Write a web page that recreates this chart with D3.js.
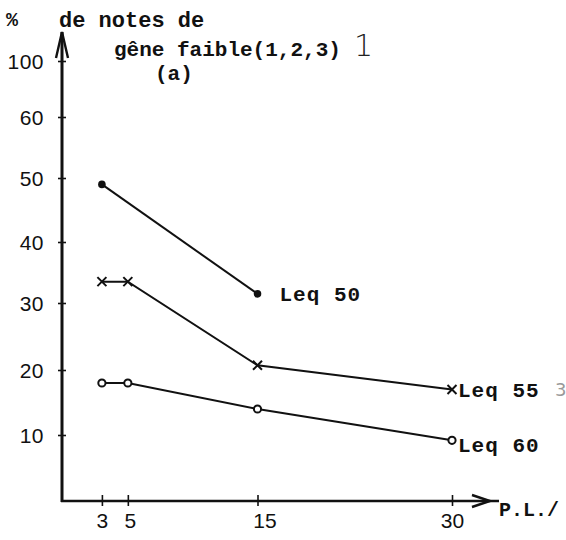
<!DOCTYPE html>
<html>
<head>
<meta charset="utf-8">
<script src="https://cdn.jsdelivr.net/npm/d3@7/dist/d3.min.js"></script>
<style>
  html, body { margin: 0; padding: 0; background: #fff; }
  svg { display: block; }
  .mono { font-family: "Liberation Mono", "DejaVu Sans Mono", monospace; fill: #111; }
  .num { font-family: "Liberation Sans", Arial, sans-serif; fill: #111; }
</style>
</head>
<body>
<svg id="chart" width="566" height="540"></svg>
<script>
// ---- data ----
const xTicks = [3, 5, 15, 30];
const yTicks = [10, 20, 30, 40, 50, 60, 100];
const yScaleSteps = [0, 10, 20, 30, 40, 50, 60, 100];

const leq50X = [3, 15];
const leq50Y = [49, 31.5];
const leq55X = [3, 5, 15, 30];
const leq55Y = [33.5, 33.5, 20.7, 17];
const leq60X = [3, 5, 15, 30];
const leq60Y = [18, 18, 14, 9.2];

const seriesNames = ["Leq 50", "Leq 55", "Leq 60"];
const titleLines = ["de notes de", "gêne faible(1,2,3)", "(a)"];
const xAxisLabel = "P.L./";

// ---- layout ----
const svg = d3.select("#chart");
const x0 = 62, y0 = 501;
const x = d3.scaleLinear().domain([0, 30]).range([63, 452]);
const y = d3.scaleLinear().domain(yScaleSteps)
  .range([501, 435, 370, 303, 242, 178, 117, 61]);

const ink = "#111";

// y axis
const yAxis = d3.axisLeft(y).tickValues(yTicks).tickSize(10).tickFormat(d3.format("d"));
const gy = svg.append("g").attr("transform", `translate(${x0},0)`).call(yAxis);
gy.select(".domain").remove();
gy.selectAll(".tick line").attr("x1", -4).attr("x2", 4).attr("stroke", ink).attr("stroke-width", 1.6);
gy.selectAll(".tick text")
  .attr("x", -18).attr("dy", "0.36em")
  .style("font-size", "21px").style("font-family", "Liberation Sans, Arial, sans-serif")
  .style("letter-spacing", "0.5px")
  .attr("fill", ink);
svg.append("line").attr("x1", x0).attr("x2", x0).attr("y1", y0 + 1).attr("y2", 32)
  .attr("stroke", ink).attr("stroke-width", 3);
svg.append("path").attr("d", `M${x0 - 6},58 L${x0},32 L${x0 + 6},58`)
  .attr("fill", "none").attr("stroke", ink).attr("stroke-width", 2.4);

// x axis
const xAxis = d3.axisBottom(x).tickValues(xTicks).tickSize(10).tickFormat(d3.format("d"));
const gx = svg.append("g").attr("transform", `translate(0,${y0})`).call(xAxis);
gx.select(".domain").remove();
gx.selectAll(".tick line").attr("y1", -6).attr("y2", 5).attr("stroke", ink).attr("stroke-width", 1.6);
gx.selectAll(".tick text")
  .attr("y", 27).attr("dy", 0)
  .style("font-size", "21px").style("font-family", "Liberation Sans, Arial, sans-serif")
  .attr("fill", ink);
gx.selectAll(".tick").filter(d => d === 5).select("text").attr("dx", 2);
gx.selectAll(".tick").filter(d => d === 15).select("text").attr("dx", 7);
svg.append("line").attr("x1", x0 - 1).attr("x2", 499).attr("y1", y0).attr("y2", y0)
  .attr("stroke", ink).attr("stroke-width", 2.6);
svg.append("path").attr("d", `M472,${y0 - 6} L490,${y0} L472,${y0 + 6}`)
  .attr("fill", "none").attr("stroke", ink).attr("stroke-width", 2.4);
svg.append("text").attr("class", "mono").attr("x", 499).attr("y", 516)
  .style("font-size", "20px").style("font-weight", "bold").text(xAxisLabel);

// titles
svg.append("text").attr("class", "mono").attr("x", 6).attr("y", 26)
  .style("font-size", "20px").style("font-weight", "bold").text("%");
svg.append("text").attr("class", "mono").attr("x", 59).attr("y", 27)
  .style("font-size", "22px").style("font-weight", "bold").text(titleLines[0]);
svg.append("text").attr("class", "mono").attr("x", 114).attr("y", 56)
  .style("font-size", "21px").style("font-weight", "bold").text(titleLines[1]);
svg.append("text").attr("class", "mono").attr("x", 155).attr("y", 80)
  .style("font-size", "21px").style("font-weight", "bold").text(titleLines[2]);
svg.append("text").attr("x", 354).attr("y", 56)
  .style("font-family", "DejaVu Sans, sans-serif").style("font-size", "30px").style("font-weight", "200")
  .attr("fill", "#222").text("1");

// series
const line = d3.line().x(d => x(d[0])).y(d => y(d[1]));
const pts50 = d3.zip(leq50X, leq50Y);
const pts55 = d3.zip(leq55X, leq55Y);
const pts60 = d3.zip(leq60X, leq60Y);

[pts50, pts55, pts60].forEach(p => {
  svg.append("path").datum(p).attr("d", line)
    .attr("fill", "none").attr("stroke", ink).attr("stroke-width", 2);
});

// markers: Leq 50 filled dots
svg.selectAll(".m50").data(pts50).join("circle")
  .attr("cx", d => x(d[0])).attr("cy", d => y(d[1])).attr("r", 3.8).attr("fill", ink);
// Leq 55 crosses
svg.selectAll(".m55").data(pts55).join("path")
  .attr("d", d => {
    const cx = x(d[0]), cy = y(d[1]), s = 4.5;
    return `M${cx - s},${cy - s} L${cx + s},${cy + s} M${cx - s},${cy + s} L${cx + s},${cy - s}`;
  })
  .attr("stroke", ink).attr("stroke-width", 2).attr("fill", "none");
// Leq 60 open circles
svg.selectAll(".m60").data(pts60).join("circle")
  .attr("cx", d => x(d[0])).attr("cy", d => y(d[1])).attr("r", 3.6)
  .attr("fill", "#fff").attr("stroke", ink).attr("stroke-width", 2);

// series labels
const last = p => p[p.length - 1];
svg.append("text").attr("class", "mono").attr("x", x(last(pts50)[0]) + 22).attr("y", y(last(pts50)[1]))
  .attr("dy", "0.36em").style("font-size", "21px").style("font-weight", "bold").style("letter-spacing", "1px").text(seriesNames[0]);
svg.append("text").attr("class", "mono").attr("x", x(last(pts55)[0]) + 6).attr("y", y(last(pts55)[1]))
  .attr("dy", "0.36em").style("font-size", "21px").style("font-weight", "bold").style("letter-spacing", "1px").text(seriesNames[1]);
svg.append("text").attr("class", "mono").attr("x", x(last(pts60)[0]) + 6).attr("y", y(last(pts60)[1]) + 4)
  .attr("dy", "0.36em").style("font-size", "21px").style("font-weight", "bold").style("letter-spacing", "1px").text(seriesNames[2]);
svg.append("text").attr("x", 555).attr("y", y(last(pts55)[1]))
  .attr("dy", "0.36em").style("font-family", "DejaVu Sans, sans-serif").style("font-size", "18px")
  .attr("fill", "#999").text("3");
</script>
</body>
</html>
